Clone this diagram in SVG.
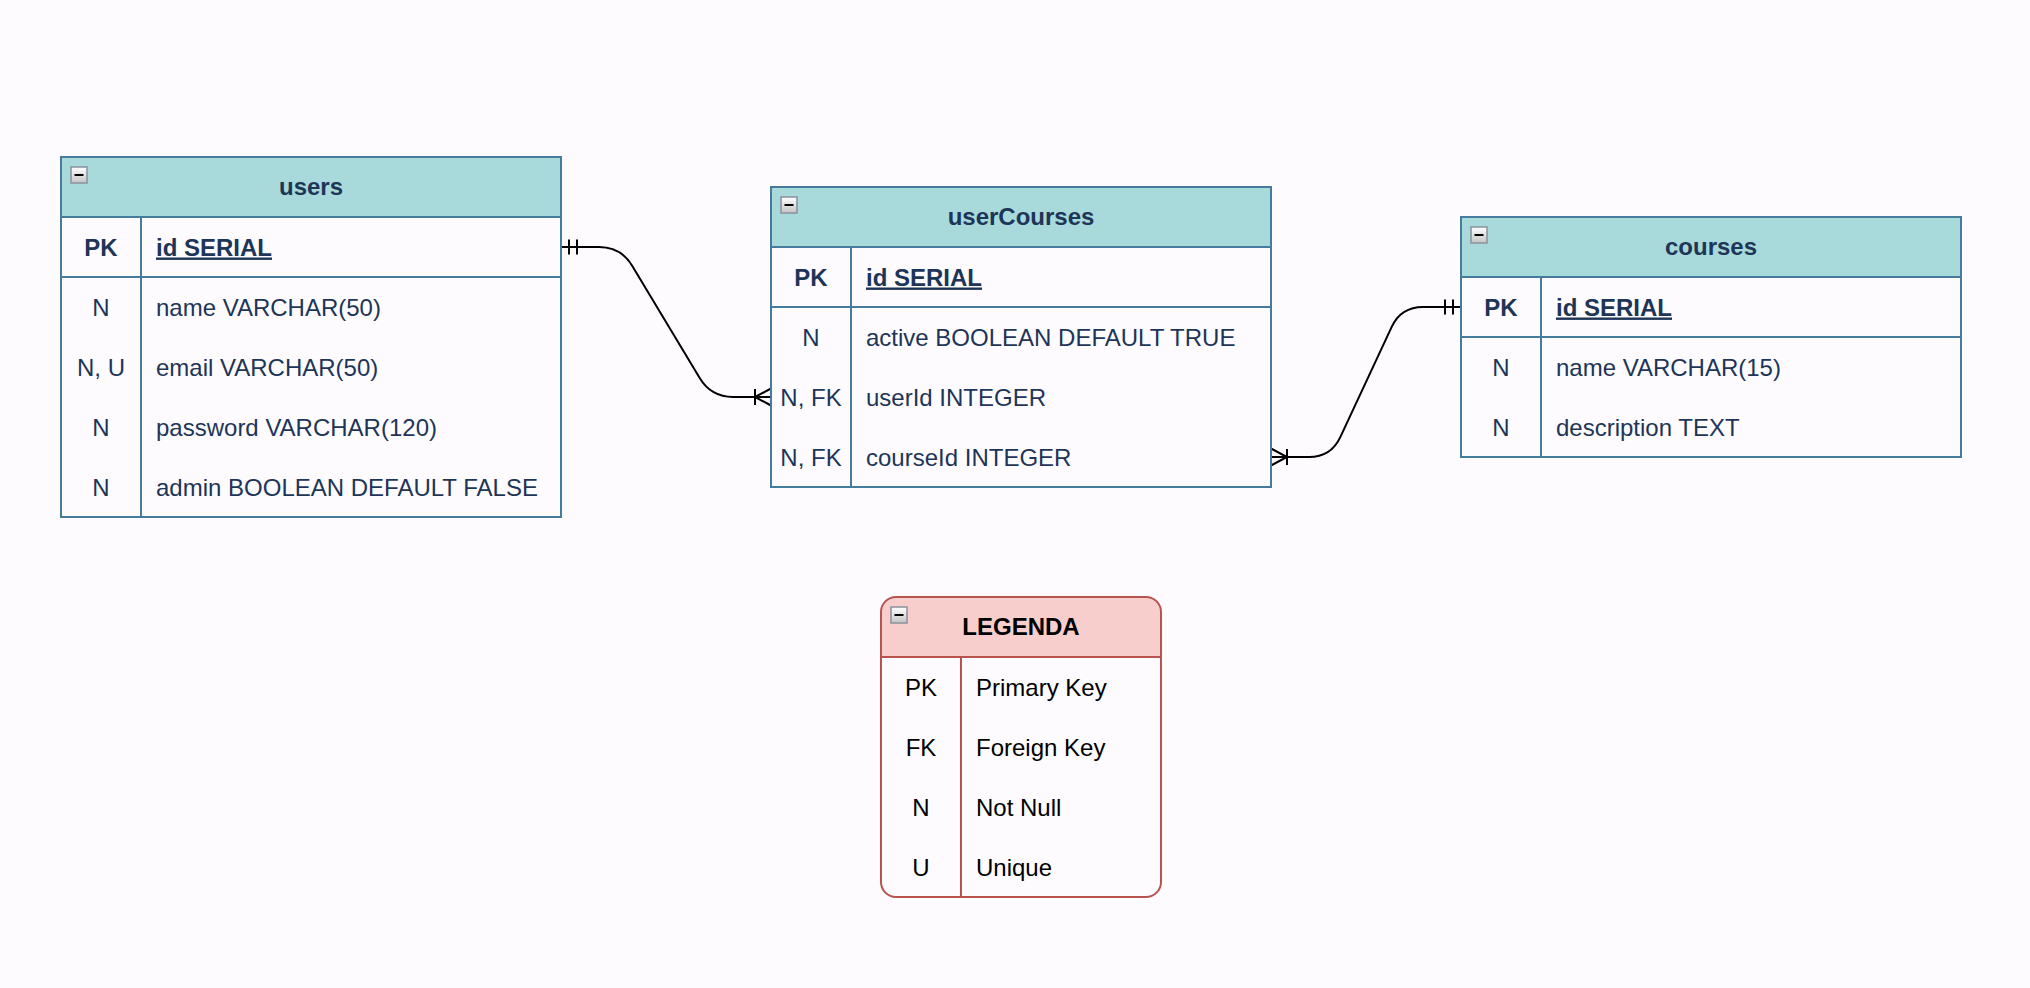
<svg xmlns="http://www.w3.org/2000/svg" width="2030" height="988" viewBox="0 0 2030 988">
  <style>
    text { font-family: "Liberation Sans", Arial, Helvetica, sans-serif; font-size: 24px; }
    .t { fill: #1D3557; }
    .tb { fill: #1D3557; font-weight: bold; }
    .pk { fill: #1D3557; font-weight: bold; text-decoration: underline; }
    .c { text-anchor: middle; }
    .lg { fill: #000000; }
    .lgb { fill: #000000; font-weight: bold; }
    .box { fill: none; stroke: #457B9D; stroke-width: 2; }
    .hdr { fill: #A8DADC; stroke: #457B9D; stroke-width: 2; }
    .ln { stroke: #457B9D; stroke-width: 2; fill: none; }
    .lbox { fill: none; stroke: #B85450; stroke-width: 2; }
    .lhdr { fill: #F8CECC; stroke: none; }
    .lln { stroke: #B85450; stroke-width: 2; fill: none; }
    .edge { fill: none; stroke: #000000; stroke-width: 2; }
    .mk { fill: none; stroke: #000000; stroke-width: 2; }
  </style>
  <defs>
    <linearGradient id="btnGrad" x1="0" y1="0" x2="0" y2="1">
      <stop offset="0" stop-color="#FFFFFF"/>
      <stop offset="1" stop-color="#C4C4C4"/>
    </linearGradient>
    <g id="minBtn">
      <rect x="0" y="0" width="16" height="16" fill="url(#btnGrad)" stroke="#8A919C" stroke-width="1.5"/>
      <line x1="3.5" y1="8" x2="12.5" y2="8" stroke="#000000" stroke-width="2"/>
    </g>
    <marker id="erOne" markerUnits="userSpaceOnUse" orient="auto-start-reverse" refX="0" refY="0" markerWidth="20" markerHeight="20" overflow="visible">
      <path class="mk" d="M-8,-7.5 V7.5 M-16,-7.5 V7.5"/>
    </marker>
    <marker id="erMany" markerUnits="userSpaceOnUse" orient="auto-start-reverse" refX="0" refY="0" markerWidth="20" markerHeight="20" overflow="visible">
      <path class="mk" d="M0,-8.5 L-16,0 L0,8.5 M-16,-8 V8"/>
    </marker>
  </defs>

  <rect x="0" y="0" width="2030" height="988" fill="#FDFBFE"/>

  <g id="connectors">
    <path class="edge" d="M561,247 H599 Q621,247 632.3,265.9 L699.7,378.1 Q711,397 733,397 H771" marker-start="url(#erOne)" marker-end="url(#erMany)"/>
    <path class="edge" d="M1271,457 H1309 Q1331,457 1340.3,437.1 L1391.7,326.9 Q1401,307 1423,307 H1461" marker-start="url(#erMany)" marker-end="url(#erOne)"/>
  </g>

  <g id="users">
    <rect class="hdr" x="61" y="157" width="500" height="60"/>
    <rect class="box" x="61" y="157" width="500" height="360"/>
    <line class="ln" x1="61" y1="277" x2="561" y2="277"/>
    <line class="ln" x1="141" y1="217" x2="141" y2="517"/>
    <use href="#minBtn" x="71" y="167"/>
    <text class="tb c" x="311" y="195">users</text>
    <text class="tb c" x="101" y="255.5">PK</text>
    <text class="pk" x="156" y="255.5">id SERIAL</text>
    <text class="t c" x="101" y="315.5">N</text>
    <text class="t" x="156" y="315.5">name VARCHAR(50)</text>
    <text class="t c" x="101" y="375.5">N, U</text>
    <text class="t" x="156" y="375.5">email VARCHAR(50)</text>
    <text class="t c" x="101" y="435.5">N</text>
    <text class="t" x="156" y="435.5">password VARCHAR(120)</text>
    <text class="t c" x="101" y="495.5">N</text>
    <text class="t" x="156" y="495.5">admin BOOLEAN DEFAULT FALSE</text>
  </g>

  <g id="userCourses">
    <rect class="hdr" x="771" y="187" width="500" height="60"/>
    <rect class="box" x="771" y="187" width="500" height="300"/>
    <line class="ln" x1="771" y1="307" x2="1271" y2="307"/>
    <line class="ln" x1="851" y1="247" x2="851" y2="487"/>
    <use href="#minBtn" x="781" y="197"/>
    <text class="tb c" x="1021" y="225">userCourses</text>
    <text class="tb c" x="811" y="285.5">PK</text>
    <text class="pk" x="866" y="285.5">id SERIAL</text>
    <text class="t c" x="811" y="345.5">N</text>
    <text class="t" x="866" y="345.5">active BOOLEAN DEFAULT TRUE</text>
    <text class="t c" x="811" y="405.5">N, FK</text>
    <text class="t" x="866" y="405.5">userId INTEGER</text>
    <text class="t c" x="811" y="465.5">N, FK</text>
    <text class="t" x="866" y="465.5">courseId INTEGER</text>
  </g>

  <g id="courses">
    <rect class="hdr" x="1461" y="217" width="500" height="60"/>
    <rect class="box" x="1461" y="217" width="500" height="240"/>
    <line class="ln" x1="1461" y1="337" x2="1961" y2="337"/>
    <line class="ln" x1="1541" y1="277" x2="1541" y2="457"/>
    <use href="#minBtn" x="1471" y="227"/>
    <text class="tb c" x="1711" y="255">courses</text>
    <text class="tb c" x="1501" y="315.5">PK</text>
    <text class="pk" x="1556" y="315.5">id SERIAL</text>
    <text class="t c" x="1501" y="375.5">N</text>
    <text class="t" x="1556" y="375.5">name VARCHAR(15)</text>
    <text class="t c" x="1501" y="435.5">N</text>
    <text class="t" x="1556" y="435.5">description TEXT</text>
  </g>

  <g id="legend">
    <path class="lhdr" d="M881,657 V612 Q881,597 896,597 H1146 Q1161,597 1161,612 V657 Z"/>
    <rect class="lbox" x="881" y="597" width="280" height="300" rx="15" ry="15"/>
    <line class="lln" x1="881" y1="657" x2="1161" y2="657"/>
    <line class="lln" x1="961" y1="657" x2="961" y2="897"/>
    <use href="#minBtn" x="891" y="607"/>
    <text class="lgb c" x="1021" y="635">LEGENDA</text>
    <text class="lg c" x="921" y="695.5">PK</text>
    <text class="lg" x="976" y="695.5">Primary Key</text>
    <text class="lg c" x="921" y="755.5">FK</text>
    <text class="lg" x="976" y="755.5">Foreign Key</text>
    <text class="lg c" x="921" y="815.5">N</text>
    <text class="lg" x="976" y="815.5">Not Null</text>
    <text class="lg c" x="921" y="875.5">U</text>
    <text class="lg" x="976" y="875.5">Unique</text>
  </g>
</svg>
